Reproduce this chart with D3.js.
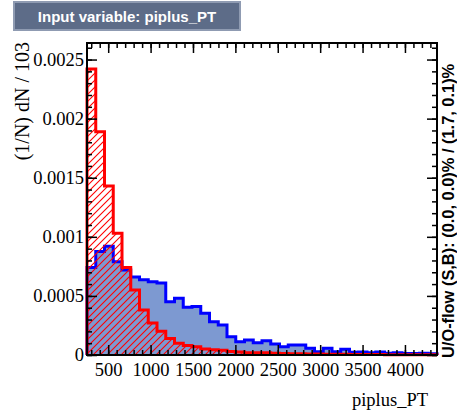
<!DOCTYPE html>
<html>
<head>
<meta charset="utf-8">
<title>Input variable: piplus_PT</title>
<script src="https://cdn.jsdelivr.net/npm/d3@7"></script>
<style>
body { margin: 0; background: #fff; }
.serif { font-family: "Liberation Serif", "DejaVu Serif", serif; }
</style>
</head>
<body>
<svg id="chart" width="457" height="418"></svg>
<script>
// histogram range (40 bins)
var xMin = 250, xMax = 4378;

// signal (blue, filled)
var sig = [0.00074, 0.000875, 0.00092, 0.00079, 0.00072, 0.00066, 0.000636, 0.00062, 0.00061, 0.00045,
           0.00048, 0.000404, 0.00041, 0.000353, 0.000282, 0.000254, 0.000155, 0.000113, 0.000127, 0.000104,
           0.00012, 0.000093, 0.00007, 0.000085, 0.000085, 0.000057, 0.000028, 0.000057, 0.000028, 0.000048,
           0.000023, 0.000025, 0.00002, 0.000025, 0.000015, 0.00002, 0.000012, 0.000012, 0.000015, 0.00001];

// background (red, hatched)
var bkg = [0.00242, 0.00189, 0.00143, 0.00103, 0.00074, 0.00055, 0.00038, 0.00027, 0.0002, 0.00014,
           0.0001, 0.00008, 0.00007, 0.00005, 0.000045, 0.00004, 0.00003, 0.000025, 0.00002, 0.00002,
           0.000018, 0.000015, 0.000012, 0.00001, 0.00001, 0.000008, 0.000008, 0.000007, 0.000006, 0.000006,
           0.000005, 0.000005, 0.000004, 0.000004, 0.000003, 0.000003, 0.000003, 0.000002, 0.000002, 0.000002];

var xTicks = [500, 1000, 1500, 2000, 2500, 3000, 3500, 4000];
var yTicks = [0, 0.0005, 0.001, 0.0015, 0.002, 0.0025];
var yTickLabels = ["0", "0.0005", "0.001", "0.0015", "0.002", "0.0025"];

var frame = {left: 87, right: 437, top: 43, bottom: 355};
var yMax = 0.00264;

var svg = d3.select("#chart");

var x = d3.scaleLinear().domain([xMin, xMax]).range([frame.left, frame.right]);
var y = d3.scaleLinear().domain([0, yMax]).range([frame.bottom, frame.top]);

var nBins = sig.length;
var binW = (xMax - xMin) / nBins;

// hatch pattern for background
var defs = svg.append("defs");
defs.append("pattern")
    .attr("id", "hatch")
    .attr("patternUnits", "userSpaceOnUse")
    .attr("width", 7).attr("height", 7)
  .append("path")
    .attr("d", "M-1,1 l2,-2 M0,7 l7,-7 M6,8 l2,-2")
    .attr("stroke", "#ff0000")
    .attr("stroke-width", 1.1);

function stepPoints(vals) {
  var pts = [];
  vals.forEach(function(v, i) {
    pts.push([x(xMin + i * binW), y(v)]);
    pts.push([x(xMin + (i + 1) * binW), y(v)]);
  });
  return pts;
}

function areaPath(vals) {
  var pts = stepPoints(vals);
  return "M" + x(xMin) + "," + y(0) + "L" + pts.map(function(p) { return p.join(","); }).join("L")
    + "L" + x(xMax) + "," + y(0) + "Z";
}
function linePath(vals) {
  var pts = stepPoints(vals);
  return "M" + x(xMin) + "," + y(0) + "L" + pts.map(function(p) { return p.join(","); }).join("L")
    + "L" + x(xMax) + "," + y(0);
}

var plot = svg.append("g");
plot.append("path").attr("d", areaPath(sig)).attr("fill", "#7d99d1");
plot.append("path").attr("d", linePath(sig)).attr("fill", "none")
    .attr("stroke", "#0000ff").attr("stroke-width", 3);
plot.append("path").attr("d", areaPath(bkg)).attr("fill", "url(#hatch)");
plot.append("path").attr("d", linePath(bkg)).attr("fill", "none")
    .attr("stroke", "#ff0000").attr("stroke-width", 3);

// axes, ticks inside frame on all sides
var xMinor = d3.range(300, 4400, 100);
var yMinor = d3.range(0, 27).map(function(i) { return i * 0.0001; });

function styleAxis(g) {
  g.select(".domain").remove();
  g.selectAll("line").attr("stroke", "#000").attr("stroke-width", 1.5);
}

svg.append("g").attr("transform", "translate(0," + frame.bottom + ")")
  .call(d3.axisBottom(x).tickValues(xMinor).tickSize(-5).tickFormat("")).call(styleAxis);
svg.append("g").attr("transform", "translate(0," + frame.top + ")")
  .call(d3.axisTop(x).tickValues(xMinor).tickSize(-5).tickFormat("")).call(styleAxis);
svg.append("g").attr("transform", "translate(0," + frame.top + ")")
  .call(d3.axisTop(x).tickValues(xTicks).tickSize(-10).tickFormat("")).call(styleAxis);

var gx = svg.append("g").attr("transform", "translate(0," + frame.bottom + ")")
  .call(d3.axisBottom(x).tickValues(xTicks).tickSize(-10).tickPadding(8).tickFormat(d3.format("d")))
  .call(styleAxis);
gx.attr("font-family", "Liberation Serif").attr("font-size", null);
gx.selectAll("text").attr("class", "serif").attr("font-family", "Liberation Serif")
  .style("font-size", "18.5px").attr("fill", "#000");

svg.append("g").attr("transform", "translate(" + frame.left + ",0)")
  .call(d3.axisLeft(y).tickValues(yMinor).tickSize(-5).tickFormat("")).call(styleAxis);
svg.append("g").attr("transform", "translate(" + frame.right + ",0)")
  .call(d3.axisRight(y).tickValues(yMinor).tickSize(-5).tickFormat("")).call(styleAxis);
svg.append("g").attr("transform", "translate(" + frame.right + ",0)")
  .call(d3.axisRight(y).tickValues(yTicks).tickSize(-10).tickFormat("")).call(styleAxis);

var gy = svg.append("g").attr("transform", "translate(" + frame.left + ",0)")
  .call(d3.axisLeft(y).tickValues(yTicks).tickSize(-10).tickPadding(3)
    .tickFormat(function(d, i) { return yTickLabels[i]; }))
  .call(styleAxis);
gy.attr("font-family", "Liberation Serif").attr("font-size", null);
gy.selectAll("text").attr("class", "serif").attr("font-family", "Liberation Serif")
  .style("font-size", "18.5px").attr("fill", "#000");

// frame
svg.append("rect")
  .attr("x", frame.left).attr("y", frame.top)
  .attr("width", frame.right - frame.left).attr("height", frame.bottom - frame.top)
  .attr("fill", "none").attr("stroke", "#000").attr("stroke-width", 2);

// axis titles
svg.append("text")
  .attr("class", "serif")
  .attr("x", 428).attr("y", 406)
  .attr("text-anchor", "end")
  .style("font-size", "18.5px")
  .text("piplus_PT");

svg.append("text")
  .attr("class", "serif")
  .attr("transform", "translate(29,42) rotate(-90)")
  .attr("text-anchor", "end")
  .style("font-size", "20px")
  .text("(1/N) dN / 103");

svg.append("text")
  .attr("transform", "translate(454,358) rotate(-90)")
  .attr("text-anchor", "start")
  .attr("font-family", "Liberation Sans").attr("font-weight", "bold").attr("font-size", 16.4)
  .text("U/O-flow (S,B): (0.0, 0.0)% / (1.7, 0.1)%");

// title box
svg.append("rect")
  .attr("x", 14).attr("y", 2).attr("width", 226).attr("height", 28)
  .attr("fill", "#5d6c88").attr("stroke", "#8f9bb2").attr("stroke-width", 2);
svg.append("text")
  .attr("x", 127).attr("y", 22)
  .attr("text-anchor", "middle")
  .attr("font-family", "Liberation Sans").attr("font-weight", "bold").attr("font-size", 15)
  .attr("fill", "#fff")
  .text("Input variable: piplus_PT");
</script>
</body>
</html>
